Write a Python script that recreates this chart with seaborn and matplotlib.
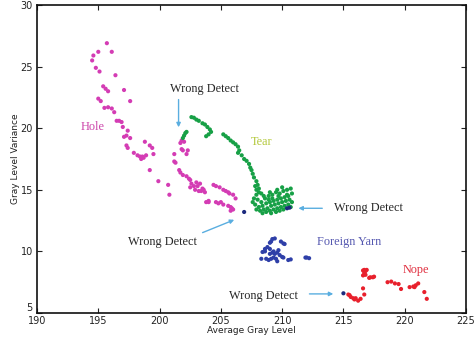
import numpy as np
import pandas as pd
import matplotlib
matplotlib.use("Agg")
import matplotlib.pyplot as plt
import seaborn as sns

# ---------------- data ----------------
hole_x = [195.7, 196.1, 195.0, 194.6, 194.5, 194.8, 195.1, 196.4, 195.4, 195.6, 195.8, 197.1,
          195.0, 195.2, 197.6, 195.5, 195.8, 196.1, 196.3, 196.5, 196.7, 196.9, 197.0, 197.4,
          197.1, 197.3, 197.6, 197.3, 197.4, 197.9, 198.2, 198.4, 198.6, 198.9, 198.7, 198.5,
          198.8, 199.2, 199.4, 199.5, 199.2, 199.9, 200.7, 200.8,
          201.8, 201.7, 202.0, 201.8, 201.9, 202.3, 202.2, 201.2, 201.2, 201.3, 201.6, 201.7,
          201.9, 202.2, 202.4, 202.5, 202.6, 202.8, 202.5, 203.0, 203.1, 203.3, 203.5, 203.4,
          203.7, 203.6, 203.2, 202.9, 204.4, 204.6, 204.9, 205.2, 205.4, 205.6, 205.7, 206.0,
          206.2, 203.8, 204.0, 204.6, 204.8, 205.0, 205.2, 205.6, 205.8, 206.0, 205.8, 205.9, 204.0]
hole_y = [26.9, 26.2, 26.2, 25.9, 25.5, 24.9, 24.6, 24.3, 23.4, 23.2, 23.0, 23.1,
          22.4, 22.2, 22.2, 21.65, 21.7, 21.6, 21.3, 20.6, 20.6, 20.5, 20.1, 19.8,
          19.3, 19.4, 19.2, 18.6, 18.4, 18.0, 17.8, 17.7, 17.7, 17.8, 17.6, 17.5,
          18.9, 18.6, 18.4, 17.9, 16.6, 15.7, 15.4, 14.6,
          19.0, 18.8, 18.9, 18.3, 18.2, 18.2, 17.9, 17.9, 17.3, 17.2, 16.6, 16.4,
          16.2, 16.1, 15.9, 15.8, 15.5, 15.3, 15.2, 15.6, 15.3, 15.5, 15.1, 14.9,
          14.8, 15.0, 14.9, 15.0, 15.4, 15.3, 15.2, 15.0, 14.9, 14.8, 14.7, 14.6,
          14.3, 14.0, 14.0, 14.0, 13.9, 14.0, 13.8, 13.7, 13.6, 13.4, 13.3, 13.5, 14.1]

tear_x = [202.0, 201.9, 202.1, 202.2, 202.6, 202.8, 203.0, 203.2, 203.5, 203.7, 203.9, 204.1,
          204.2, 204.0, 203.8, 205.2, 205.4, 205.6, 205.8, 206.0, 206.2, 206.4, 206.5, 206.4,
          206.7, 206.9, 207.1, 207.3, 207.4, 207.5, 207.6, 207.7, 207.9, 208.0, 208.1,
          207.8, 207.9, 208.1, 207.9, 208.3, 207.7, 208.0, 208.3, 208.6, 208.9, 209.2, 209.5,
          209.8, 210.1, 210.4, 210.7, 210.8, 210.5, 210.2, 209.9, 209.6, 209.3, 209.0, 208.7,
          208.4, 208.1, 207.8, 207.6, 208.2, 208.5, 208.8, 209.1, 209.4, 209.7, 210.0, 210.3,
          210.6, 210.8, 210.5, 210.2, 209.9, 209.6, 209.3, 209.0, 208.7, 208.4, 209.1, 209.5,
          209.8, 210.1, 209.2, 208.9, 208.5, 209.7, 210.4, 207.9, 210.7, 210.0, 209.6, 209.0]
tear_y = [19.4, 19.2, 19.6, 19.7, 20.9, 20.85, 20.7, 20.6, 20.4, 20.3, 20.1, 19.9,
          19.7, 19.5, 19.35, 19.5, 19.35, 19.2, 19.0, 18.85, 18.7, 18.5, 18.2, 18.0,
          17.8, 17.5, 17.35, 17.1, 16.8, 16.6, 16.3, 16.0, 15.7, 15.4, 15.1,
          15.3, 15.0, 14.8, 14.6, 14.7, 14.3, 14.2, 14.0, 14.3, 14.5, 14.6, 14.8,
          14.7, 14.9, 15.0, 15.1, 14.7, 14.5, 14.4, 14.3, 14.2, 14.1, 14.0, 13.9,
          13.7, 13.6, 13.8, 14.0, 13.3, 13.4, 13.5, 13.7, 13.8, 13.9, 14.0, 14.1,
          14.2, 14.0, 13.8, 13.7, 13.6, 13.5, 13.4, 13.3, 13.2, 13.1, 13.1, 13.2,
          13.3, 13.4, 14.3, 14.2, 14.5, 14.5, 14.6, 13.4, 13.6, 15.2, 15.0, 14.8]

yarn_x = [209.2, 209.4, 209.1, 209.0, 209.9, 210.2, 210.1, 208.6, 208.8, 209.0, 208.4, 208.6,
          209.0, 209.2, 209.4, 209.6, 209.8, 210.0, 210.1, 209.5, 209.3, 209.1, 208.9, 208.7,
          208.3, 209.6, 210.5, 210.7, 211.9, 212.0, 212.2, 209.7, 209.3]
yarn_y = [11.0, 11.05, 10.8, 10.7, 10.8, 10.6, 10.65, 10.2, 10.35, 10.2, 9.95, 10.0,
          9.8, 9.9, 9.8, 9.9, 9.7, 9.55, 9.5, 9.4, 9.5, 9.4, 9.3, 9.4,
          9.4, 9.2, 9.3, 9.35, 9.5, 9.5, 9.45, 10.1, 10.0]

nope_x = [215.4, 215.6, 215.5, 215.8, 215.9, 216.0, 216.2, 216.4, 216.7, 216.6, 216.6, 216.7,
          216.8, 216.9, 216.6, 216.8, 216.7, 217.1, 217.4, 217.5, 217.2, 218.6, 218.9, 219.2,
          219.5, 219.7, 220.4, 220.7, 220.9, 221.1, 220.8, 221.6, 221.8]
nope_y = [6.5, 6.3, 6.45, 6.2, 6.1, 6.2, 6.0, 6.15, 6.5, 7.0, 8.45, 8.5,
          8.4, 8.5, 8.05, 8.1, 8.25, 7.85, 7.9, 7.95, 7.9, 7.5, 7.55, 7.4,
          7.35, 6.95, 7.1, 7.15, 7.25, 7.4, 7.1, 6.7, 6.15]

wrong_x = [206.9, 210.4, 210.6, 215.0]
wrong_y = [13.2, 13.5, 13.55, 6.6]

x_ticks = [190, 195, 200, 205, 210, 215, 220, 225]
y_ticks = [5, 10, 15, 20, 25, 30]

# ---------------- frame ----------------
frames = []
for name, xs, ys in [("Hole", hole_x, hole_y), ("Tear", tear_x, tear_y),
                     ("Foreign Yarn", yarn_x, yarn_y), ("Nope", nope_x, nope_y),
                     ("Wrong", wrong_x, wrong_y)]:
    frames.append(pd.DataFrame({"x": xs, "y": ys, "cls": name}))
df = pd.concat(frames, ignore_index=True)

palette = {"Hole": "#d43cb4", "Tear": "#17a046", "Foreign Yarn": "#2e3fa8",
           "Nope": "#e8202c", "Wrong": "#1c2a7e"}

sns.set_style("ticks")
plt.rcParams["font.family"] = ["DejaVu Sans"]
plt.rcParams["xtick.direction"] = "in"
plt.rcParams["ytick.direction"] = "in"

fig = plt.figure(figsize=(4.74, 3.41), dpi=100)
ax = fig.add_axes([37 / 474, 28 / 341, 429 / 474, 308 / 341])

sns.scatterplot(data=df, x="x", y="y", hue="cls", palette=palette, s=9,
                edgecolor="none", marker="o", legend=False, ax=ax)

ax.set_xlim(190, 225)
ax.set_ylim(5, 30)
ax.set_xticks(x_ticks)
ax.set_yticks(y_ticks)
ax.tick_params(axis="both", which="both", direction="in", length=3.5, width=0.8,
               labelsize=7, colors="#222222", top=True, right=True)
ax.tick_params(axis="x", pad=2)
ax.tick_params(axis="y", pad=3)
for lab in ax.get_yticklabels():
    if lab.get_text() == "5":
        lab.set_va("bottom")
for s in ax.spines.values():
    s.set_linewidth(1.2)
    s.set_color("#111111")
ax.set_xlabel("Average Gray Level", fontsize=6.5, labelpad=0, color="#222222")
ax.set_ylabel("Gray Level Variance", fontsize=6.5, labelpad=0, color="#222222")

serif = ["Liberation Serif", "DejaVu Serif"]
tfs = 8.8
arrow_c = "#5aaee0"

ax.text(203.7, 23.2, "Wrong Detect", family=serif, fontsize=tfs, ha="center", va="center")
ax.annotate("", xy=(201.55, 19.85), xytext=(201.55, 22.55),
            arrowprops=dict(arrowstyle="-|>", color=arrow_c, lw=1, mutation_scale=6))
ax.text(217.0, 13.5, "Wrong Detect", family=serif, fontsize=tfs, ha="center", va="center")
ax.annotate("", xy=(211.1, 13.5), xytext=(213.5, 13.5),
            arrowprops=dict(arrowstyle="-|>", color=arrow_c, lw=1, mutation_scale=6))
ax.text(200.2, 10.75, "Wrong Detect", family=serif, fontsize=tfs, ha="center", va="center")
ax.annotate("", xy=(206.3, 12.65), xytext=(203.3, 11.44),
            arrowprops=dict(arrowstyle="-|>", color=arrow_c, lw=1, mutation_scale=6))
ax.text(208.5, 6.42, "Wrong Detect", family=serif, fontsize=tfs, ha="center", va="center")
ax.annotate("", xy=(214.4, 6.55), xytext=(212.0, 6.55),
            arrowprops=dict(arrowstyle="-|>", color=arrow_c, lw=1, mutation_scale=6))

ax.text(194.5, 20.1, "Hole", family=serif, fontsize=tfs, ha="center", va="center", color="#cc44aa")
ax.text(208.3, 18.9, "Tear", family=serif, fontsize=tfs, ha="center", va="center", color="#b3c83a")
ax.text(215.5, 10.8, "Foreign Yarn", family=serif, fontsize=tfs, ha="center", va="center", color="#5558b0")
ax.text(220.9, 8.45, "Nope", family=serif, fontsize=tfs, ha="center", va="center", color="#e03040")

fig.savefig("out.png", dpi=100)
